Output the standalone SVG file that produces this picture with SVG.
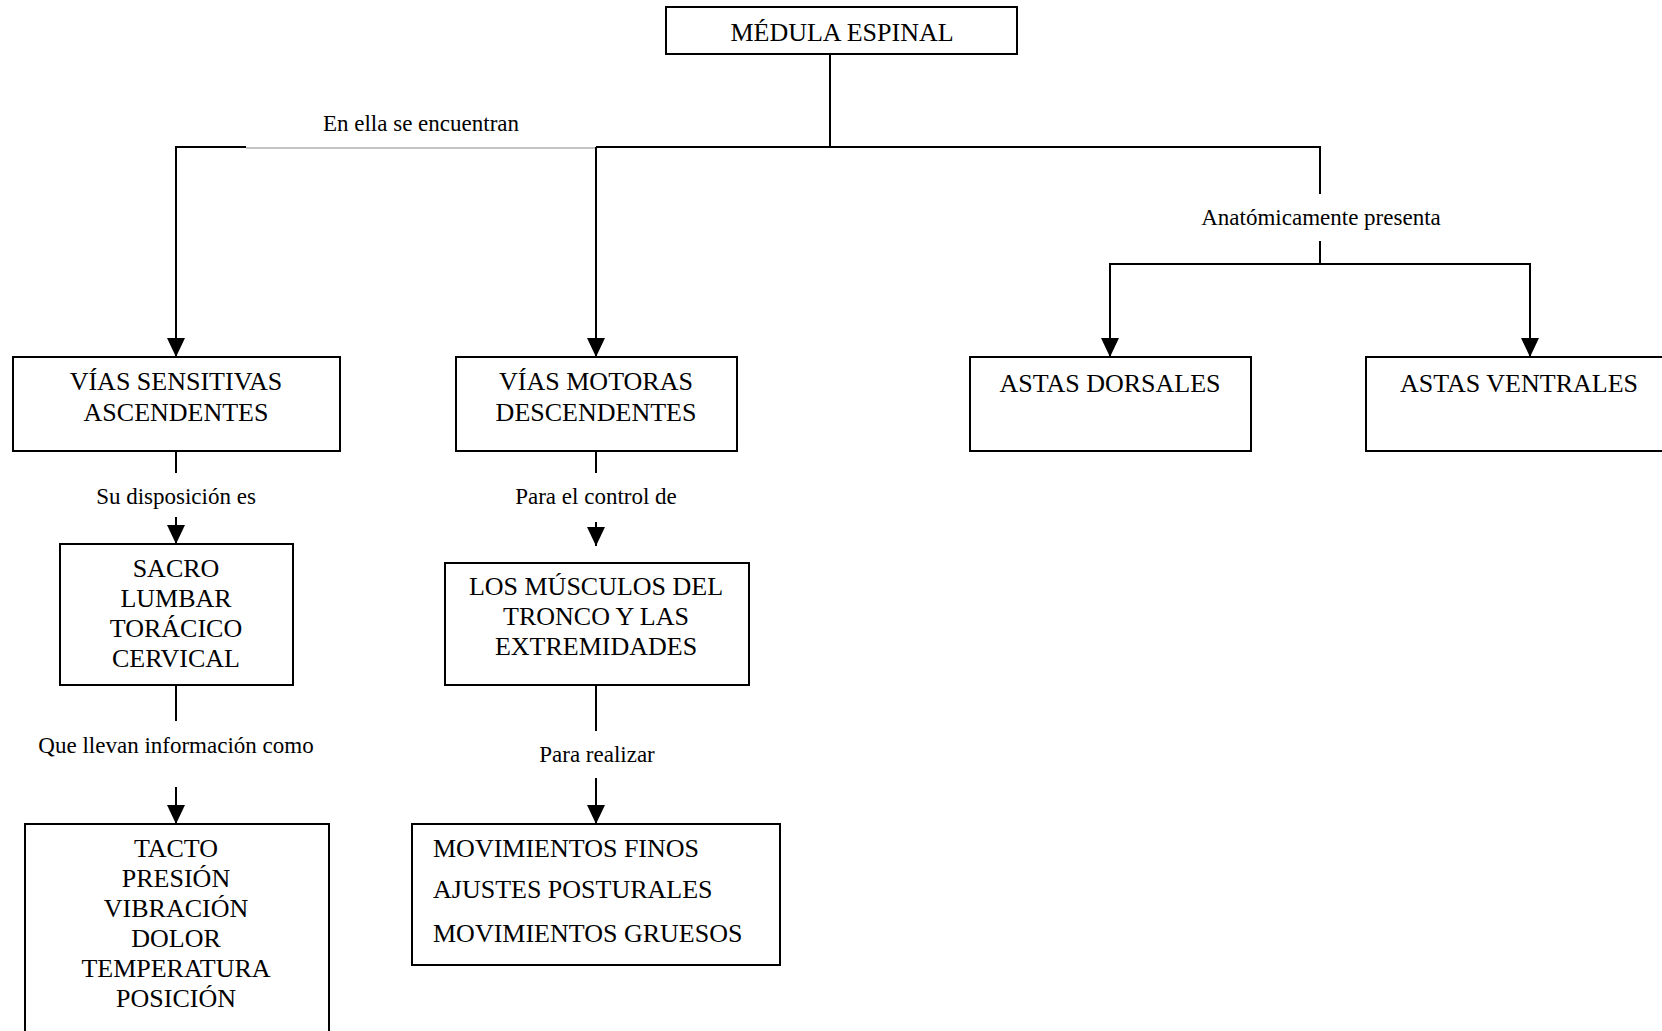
<svg xmlns="http://www.w3.org/2000/svg" width="1662" height="1031" viewBox="0 0 1662 1031">
  <style>
    .box { fill: #ffffff; stroke: #000000; stroke-width: 2; }
    .ttl { font-family: "Liberation Serif", "Times New Roman", serif; font-size: 26px; fill: #000000; text-anchor: middle; }
    .lft { text-anchor: start; }
    .lbl { font-family: "Liberation Serif", "Times New Roman", serif; font-size: 23px; fill: #000000; text-anchor: middle; }
    .ln { fill: none; stroke: #000000; stroke-width: 2; }
    .thin { fill: none; stroke: #8a8a8a; stroke-width: 1.2; }
  </style>
  <defs>
    <marker id="arrow" markerUnits="userSpaceOnUse" markerWidth="19" markerHeight="18" refX="19" refY="9" orient="auto">
      <path d="M0,0 L19,9 L0,18 Z" fill="#000000"/>
    </marker>
  </defs>

  <rect width="1662" height="1031" fill="#ffffff"/>

  <!-- connectors and their labels -->
  <g id="connectors">
    <!-- trunk from the root -->
    <line class="ln" x1="830" y1="54" x2="830" y2="147"/>
    <line class="ln" x1="175" y1="147" x2="246" y2="147"/>
    <line class="thin" x1="246" y1="148" x2="596" y2="148"/>
    <line class="ln" x1="596" y1="147" x2="1321" y2="147"/>
    <text class="lbl" x="421" y="131">En ella se encuentran</text>

    <!-- branches to the two pathways -->
    <line class="ln" x1="176" y1="147" x2="176" y2="357" marker-end="url(#arrow)"/>
    <line class="ln" x1="596" y1="147" x2="596" y2="357" marker-end="url(#arrow)"/>

    <!-- anatomical branch -->
    <line class="ln" x1="1320" y1="146" x2="1320" y2="194"/>
    <text class="lbl" x="1321" y="225">Anatómicamente presenta</text>
    <line class="ln" x1="1320" y1="241" x2="1320" y2="264"/>
    <line class="ln" x1="1109" y1="264" x2="1531" y2="264"/>
    <line class="ln" x1="1110" y1="263" x2="1110" y2="357" marker-end="url(#arrow)"/>
    <line class="ln" x1="1530" y1="263" x2="1530" y2="357" marker-end="url(#arrow)"/>

    <!-- sensory column -->
    <line class="ln" x1="176" y1="451" x2="176" y2="473"/>
    <text class="lbl" x="176" y="504">Su disposición es</text>
    <line class="ln" x1="176" y1="517" x2="176" y2="544" marker-end="url(#arrow)"/>
    <line class="ln" x1="176" y1="685" x2="176" y2="721"/>
    <text class="lbl" x="176" y="753">Que llevan información como</text>
    <line class="ln" x1="176" y1="787" x2="176" y2="824" marker-end="url(#arrow)"/>

    <!-- motor column -->
    <line class="ln" x1="596" y1="451" x2="596" y2="473"/>
    <text class="lbl" x="596" y="504">Para el control de</text>
    <line class="ln" x1="596" y1="522" x2="596" y2="546" marker-end="url(#arrow)"/>
    <line class="ln" x1="596" y1="685" x2="596" y2="731"/>
    <text class="lbl" x="597" y="762">Para realizar</text>
    <line class="ln" x1="596" y1="778" x2="596" y2="824" marker-end="url(#arrow)"/>
  </g>

  <g id="medula">
    <rect class="box" x="666" y="7" width="351" height="47"/>
    <text class="ttl" x="842" y="41">MÉDULA ESPINAL</text>
  </g>

  <g id="vias-sensitivas">
    <rect class="box" x="13" y="357" width="327" height="94"/>
    <text class="ttl" x="176" y="390">VÍAS SENSITIVAS</text>
    <text class="ttl" x="176" y="421">ASCENDENTES</text>
  </g>

  <g id="vias-motoras">
    <rect class="box" x="456" y="357" width="281" height="94"/>
    <text class="ttl" x="596" y="390">VÍAS MOTORAS</text>
    <text class="ttl" x="596" y="421">DESCENDENTES</text>
  </g>

  <g id="astas-dorsales">
    <rect class="box" x="970" y="357" width="281" height="94"/>
    <text class="ttl" x="1110" y="392">ASTAS DORSALES</text>
  </g>

  <g id="astas-ventrales">
    <rect class="box" x="1366" y="357" width="306" height="94"/>
    <text class="ttl" x="1519" y="392">ASTAS VENTRALES</text>
  </g>

  <g id="segmentos">
    <rect class="box" x="60" y="544" width="233" height="141"/>
    <text class="ttl" x="176" y="577">SACRO</text>
    <text class="ttl" x="176" y="607">LUMBAR</text>
    <text class="ttl" x="176" y="637">TORÁCICO</text>
    <text class="ttl" x="176" y="667">CERVICAL</text>
  </g>

  <g id="musculos">
    <rect class="box" x="445" y="563" width="304" height="122"/>
    <text class="ttl" x="596" y="595">LOS MÚSCULOS DEL</text>
    <text class="ttl" x="596" y="625">TRONCO Y LAS</text>
    <text class="ttl" x="596" y="655">EXTREMIDADES</text>
  </g>

  <g id="informacion">
    <rect class="box" x="25" y="824" width="304" height="230"/>
    <text class="ttl" x="176" y="857">TACTO</text>
    <text class="ttl" x="176" y="887">PRESIÓN</text>
    <text class="ttl" x="176" y="917">VIBRACIÓN</text>
    <text class="ttl" x="176" y="947">DOLOR</text>
    <text class="ttl" x="176" y="977">TEMPERATURA</text>
    <text class="ttl" x="176" y="1007">POSICIÓN</text>
  </g>

  <g id="movimientos">
    <rect class="box" x="412" y="824" width="368" height="141"/>
    <text class="ttl lft" x="433" y="857">MOVIMIENTOS FINOS</text>
    <text class="ttl lft" x="433" y="898">AJUSTES POSTURALES</text>
    <text class="ttl lft" x="433" y="942">MOVIMIENTOS GRUESOS</text>
  </g>
</svg>
